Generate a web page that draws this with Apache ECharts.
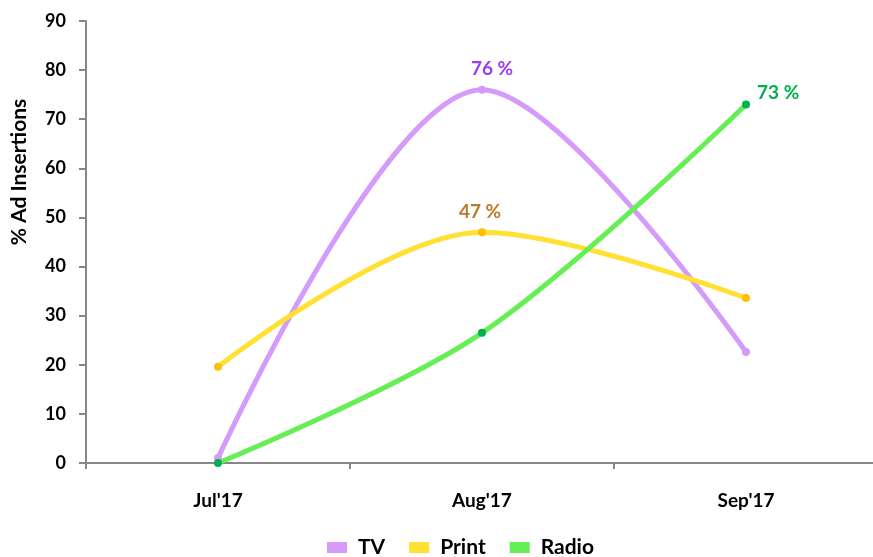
<!DOCTYPE html>
<html>
<head>
<meta charset="utf-8">
<script src="https://cdn.jsdelivr.net/npm/echarts@6/dist/echarts.min.js"></script>
<style>
html,body{margin:0;padding:0;background:#fff;overflow:hidden;}
#chart{width:880px;height:557px;}
</style>
</head>
<body>
<div id="chart"></div>
<script>
// Monthly share of ad insertions per medium
const months = ["Jul'17", "Aug'17", "Sep'17"];
const tvValues = [1, 76, 22.6];
const printValues = [19.6, 47, 33.6];
const radioValues = [0, 26.5, 73];
const yTicks = [0, 10, 20, 30, 40, 50, 60, 70, 80, 90];

// points that carry a value label: series name -> data indices
const labelled = { TV: [1], Print: [1], Radio: [2] };

const FONT = 'Lato, "Open Sans", sans-serif';

function makeSeries(name, values, lineColor, dotColor, labelColor, pos, offset) {
  return {
    name: name,
    type: 'line',
    smooth: 0.33,
    data: values.map((v, i) => {
      const item = { value: v };
      if (labelled[name].includes(i)) {
        item.label = {
          show: true,
          position: pos,
          offset: offset,
          formatter: p => Math.round(p.value) + ' %',
          color: labelColor,
          fontFamily: FONT,
          fontWeight: 'bold',
          fontSize: 19
        };
      }
      return item;
    }),
    symbol: 'circle',
    symbolSize: 8,
    showSymbol: true,
    lineStyle: { color: lineColor, width: 5 },
    itemStyle: { color: dotColor, borderWidth: 0 },
    emphasis: { disabled: true },
    z: 2
  };
}

const chart = echarts.init(document.getElementById('chart'), null, { renderer: 'canvas' });
chart.setOption({
  animation: false,
  backgroundColor: '#ffffff',
  color: ['#D49BFA', '#FFE033', '#66EE55'],
  grid: { left: 86, top: 21, height: 442, width: 792, containLabel: false },
  legend: {
    top: 532,
    left: 322,
    icon: 'rect',
    itemWidth: 20,
    itemHeight: 11,
    itemGap: 24,
    textStyle: { fontFamily: FONT, fontWeight: 'bold', fontSize: 21, color: '#000', padding: [0, 0, 0, 6] },
    data: [
      { name: 'TV', itemStyle: { color: '#D49BFA' } },
      { name: 'Print', itemStyle: { color: '#FFE033' } },
      { name: 'Radio', itemStyle: { color: '#66EE55' } }
    ]
  },
  xAxis: {
    type: 'category',
    data: months,
    boundaryGap: true,
    axisLine: { lineStyle: { color: '#878787', width: 2 } },
    axisTick: { show: true, length: 6, lineStyle: { color: '#878787', width: 2 } },
    axisLabel: { color: '#000', fontFamily: FONT, fontWeight: 'bold', fontSize: 19, margin: 28 },
    splitLine: { show: false }
  },
  yAxis: {
    type: 'value',
    min: yTicks[0],
    max: yTicks[yTicks.length - 1],
    interval: 10,
    axisLine: { show: true, lineStyle: { color: '#878787', width: 2 } },
    axisTick: { show: true, length: 7, lineStyle: { color: '#878787', width: 2 } },
    axisLabel: { color: '#000', fontFamily: FONT, fontWeight: 'bold', fontSize: 18, margin: 20 },
    splitLine: { show: false }
  },
  graphic: [{
    type: 'text',
    x: 19,
    y: 172,
    rotation: Math.PI / 2,
    style: {
      text: '% Ad Insertions',
      fill: '#000',
      font: 'bold 21px ' + FONT,
      textAlign: 'center',
      textVerticalAlign: 'middle'
    }
  }],
  series: [
    makeSeries('TV', tvValues, '#D49BFA', '#D49BFA', '#A03CF0', 'top', [10, -2]),
    makeSeries('Print', printValues, '#FFE033', '#FFC000', '#B97A2A', 'top', [-2, -2]),
    makeSeries('Radio', radioValues, '#66EE55', '#00B050', '#00B050', 'right', [2, -12])
  ]
});
</script>
</body>
</html>
